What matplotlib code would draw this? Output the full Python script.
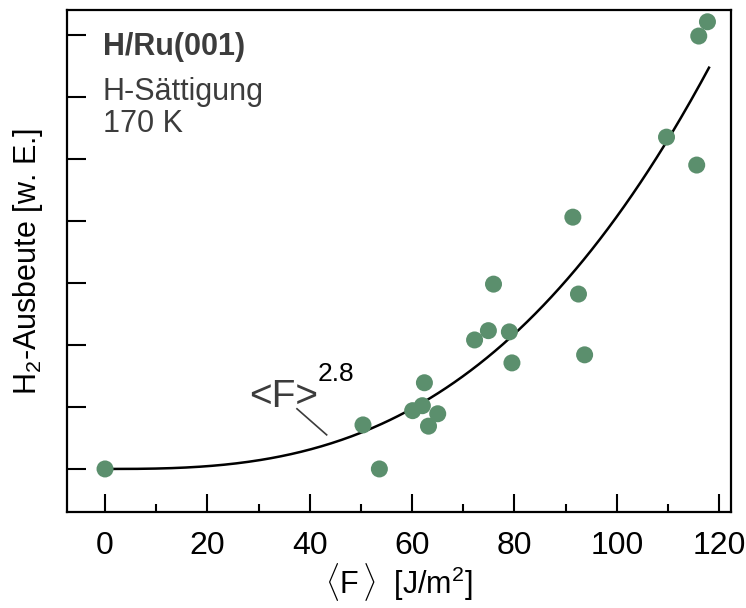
import matplotlib
matplotlib.use("Agg")
import matplotlib.pyplot as plt
import numpy as np
from matplotlib.ticker import MultipleLocator

# measured fluence <F> [J/m^2] and H2 yield (arb. units)
fluence = [0.0, 50.4, 53.6, 60.1, 62.0, 62.4, 63.2, 65.0, 72.2, 74.9, 75.9,
           79.0, 79.5, 91.4, 92.5, 93.7, 109.7, 115.6, 116.0, 117.7]
yield_h2 = [0.0, 0.71, 0.0, 0.94, 1.02, 1.39, 0.69, 0.89, 2.08, 2.23, 2.98,
            2.21, 1.71, 4.06, 2.82, 1.84, 5.35, 4.90, 6.98, 7.21]

# power-law fit <F>^2.8
fit_exp = 2.8
fit_end = 118.0
fit_end_y = 6.47

fonts = ["Liberation Sans", "DejaVu Sans"]
plt.rcParams["mathtext.fontset"] = "custom"
plt.rcParams["mathtext.rm"] = "Liberation Sans"
plt.rcParams["mathtext.it"] = "Liberation Sans:italic"

fig = plt.figure(figsize=(7.46, 6.08), dpi=100)
ax = fig.add_axes([67 / 746, 1 - 512 / 608, (731 - 67) / 746, (512 - 10) / 608])

xf = np.linspace(0, fit_end, 300)
ax.plot(xf, fit_end_y * (xf / fit_end) ** fit_exp, color="black", lw=1.8, zorder=2)
ax.scatter(fluence, yield_h2, s=150, color="#5b8f6d", edgecolors="none", zorder=3)

ax.set_xlim(-7.43, 122.3)
ax.set_ylim(-0.694, 7.40)

ax.xaxis.set_major_locator(MultipleLocator(20))
ax.xaxis.set_minor_locator(MultipleLocator(10))
ax.yaxis.set_major_locator(MultipleLocator(1))
ax.tick_params(axis="x", which="major", direction="in", length=13, width=1.5,
               pad=14, labelsize=23, top=False)
ax.tick_params(axis="x", which="minor", direction="in", length=6, width=1.5, top=False)
ax.tick_params(axis="y", which="major", direction="in", length=14, width=1.5,
               labelleft=False, right=False)
for lab in ax.get_xticklabels():
    lab.set_family(fonts)
for sp in ax.spines.values():
    sp.set_linewidth(1.6)

ax.set_xlabel("$\\langle$F$\\,\\rangle$  [J/m$^2$]", fontsize=22, family=fonts, labelpad=0)
ax.set_ylabel("H$_2$-Ausbeute [w. E.]", fontsize=22, family=fonts, labelpad=16)

ax.text(-0.4, 6.68, "H/Ru(001)", fontsize=22, fontweight="bold", color="#3c3c3c",
        family=fonts, va="baseline")
ax.text(-0.4, 5.95, "H-S\u00e4ttigung", fontsize=22, color="#3c3c3c",
        family=fonts, va="baseline")
ax.text(-0.4, 5.44, "170 K", fontsize=22, color="#3c3c3c",
        family=fonts, va="baseline")

ax.text(34.9, 1.0, "<F>", fontsize=28, color="#3c3c3c", family=fonts,
        ha="center", va="baseline")
ax.text(45.1, 1.42, "2.8", fontsize=19, color="black", family=fonts,
        ha="center", va="baseline")
ax.plot([37.5, 43.3], [0.97, 0.55], color="#3c3c3c", lw=1.2)

fig.savefig("out.png", dpi=100)
